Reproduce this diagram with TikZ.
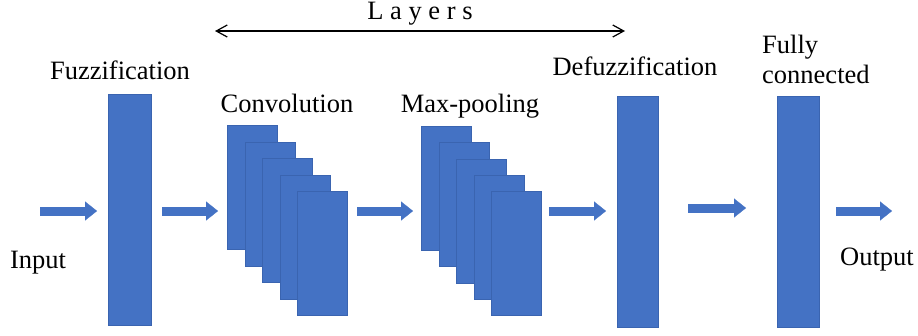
\documentclass[tikz,border=0pt]{standalone}
\usepackage{fontspec}
\setmainfont{LiberationSerif}[Extension=.ttf, UprightFont=*-Regular, BoldFont=*-Bold, ItalicFont=*-Italic, BoldItalicFont=*-BoldItalic]
\usepackage{xcolor}
\usetikzlibrary{arrows.meta}

\definecolor{layerblue}{HTML}{4472C4}
\definecolor{layeredge}{HTML}{3A64B0}

\tikzset{
  layer/.style={fill=layerblue, draw=layeredge, line width=0.6pt, inner sep=0pt, anchor=north west},
  flow/.style={draw=layerblue, line width=9pt, -{Triangle[length=12pt,width=19pt,line width=0.1pt]}},
  lbl/.style={font=\fontsize{26.5}{30}\selectfont, inner sep=0pt, anchor=base},
}

\begin{document}
\begin{tikzpicture}[x=1pt,y=-1pt]
        \useasboundingbox (0,0) rectangle (918,335);

        % layer blocks
        \node[layer, minimum width=43pt, minimum height=231pt] (fuz) at (108,94) {};
        \foreach \i in {0,...,4}
            \node[layer, minimum width=50pt, minimum height=124pt] (conv\i) at ({227+17.5*\i},{125+16.5*\i}) {};
        \foreach \i in {0,...,4}
            \node[layer, minimum width=50pt, minimum height=124pt] (pool\i) at ({421+17.5*\i},{126+16.25*\i}) {};
        \node[layer, minimum width=41pt, minimum height=231pt] (defuz) at (617,96) {};
        \node[layer, minimum width=42pt, minimum height=231pt] (fc) at (777,96) {};

        % labels
        \node[lbl] (fuzlab) at (120,79) {Fuzzification};
        \node[lbl] (convlab) at (287,112) {Convolution};
        \node[lbl] (poollab) at (470,112) {Max-pooling};
        \node[lbl] (defuzlab) at (635,75) {Defuzzification};
        \node[lbl, anchor=base west, align=left] (fclab) at (762,83) {Fully\\connected};
        \node[lbl] (inlab) at (38,268) {Input};
        \node[lbl] (outlab) at (877,265) {Output};
        \node[lbl] (laylab) at (420,19) {L a y e r s};

        % arrow ends
        \coordinate (a1s) at (40,211);  \coordinate (a1e) at (97,211);
        \coordinate (a2s) at (162,211); \coordinate (a2e) at (218,211);
        \coordinate (a3s) at (357,211); \coordinate (a3e) at (413,211);
        \coordinate (a4s) at (549,211); \coordinate (a4e) at (606,211);
        \coordinate (a5s) at (688,208); \coordinate (a5e) at (746,208);
        \coordinate (a6s) at (836,211); \coordinate (a6e) at (892,211);
        \coordinate (layl) at (215,31); \coordinate (layr) at (625,31);

        \draw[flow] (a1s) -- (a1e);
        \draw[flow] (a2s) -- (a2e);
        \draw[flow] (a3s) -- (a3e);
        \draw[flow] (a4s) -- (a4e);
        \draw[flow] (a5s) -- (a5e);
        \draw[flow] (a6s) -- (a6e);

        \draw[line width=1.2pt, {Straight Barb[length=11pt,width=12pt]}-{Straight Barb[length=11pt,width=12pt]}] (layl) -- (layr);
\end{tikzpicture}
\end{document}
